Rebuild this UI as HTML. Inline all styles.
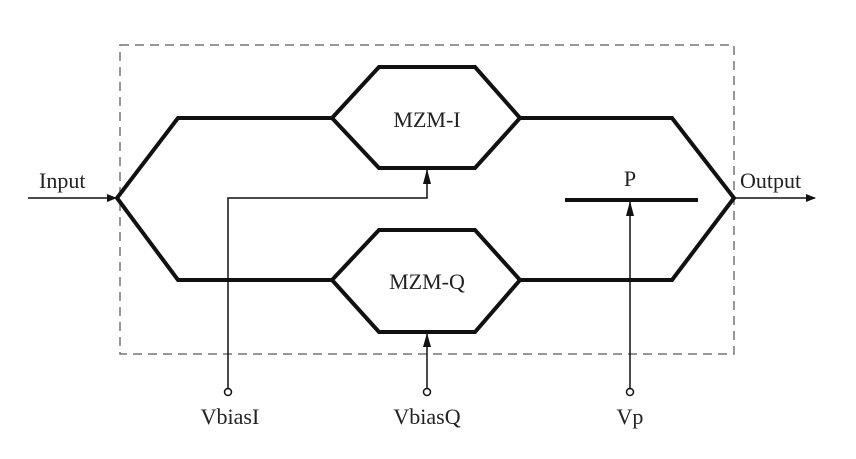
<!DOCTYPE html>
<html><head><style>body{margin:0;background:#fff}svg{display:block}text{font-family:"Liberation Serif",serif;fill:#222}</style></head>
<body>
<svg width="856" height="459" viewBox="0 0 856 459">
<defs><marker id="a" markerWidth="10" markerHeight="8" refX="9" refY="4" orient="auto" markerUnits="userSpaceOnUse"><path d="M0,0 L10,4 L0,8 Z" fill="#111"/></marker></defs>
<rect x="120" y="45" width="614" height="309" fill="none" stroke="#777" stroke-width="1.5" stroke-dasharray="9,6"/>
<g fill="none" stroke="#111" stroke-width="4" stroke-linejoin="miter">
<polyline points="332,118 178,118 117,198 178,280 332,280"/>
<polyline points="520,118 672,118 734,198 672,280 520,280"/>
<polygon points="332,118 379,67 475,67 520,118 475,168 379,168"/>
<polygon points="332,280 379,230 475,230 520,280 475,332 379,332"/>
<line x1="565" y1="200" x2="698" y2="200"/>
</g>
<g fill="none" stroke="#111" stroke-width="1.5">
<line x1="28" y1="198" x2="116" y2="198" marker-end="url(#a)"/>
<line x1="735" y1="198" x2="815" y2="198" marker-end="url(#a)"/>
<polyline points="228,389 228,198 427,198 427,170"/>
<line x1="427" y1="389" x2="427" y2="334"/>
<line x1="630" y1="389" x2="630" y2="202"/>
<circle cx="228" cy="392" r="3.5" fill="#fff"/>
<circle cx="427" cy="392" r="3.5" fill="#fff"/>
<circle cx="630" cy="392" r="3.5" fill="#fff"/>
</g>
<path d="M423,184 L427,169 L431,184 Z" fill="#111"/>
<path d="M423,347 L427,333 L431,347 Z" fill="#111"/>
<path d="M626,216 L630,201 L634,216 Z" fill="#111"/>
<g font-size="22">
<text x="427" y="127" text-anchor="middle">MZM-I</text>
<text x="427" y="289" text-anchor="middle">MZM-Q</text>
<text x="630" y="186" text-anchor="middle">P</text>
<text x="39" y="188">Input</text>
<text x="740" y="188">Output</text>
<text x="230" y="424" text-anchor="middle">VbiasI</text>
<text x="427" y="424" text-anchor="middle">VbiasQ</text>
<text x="630" y="424" text-anchor="middle">Vp</text>
</g>
</svg>
</body></html>
